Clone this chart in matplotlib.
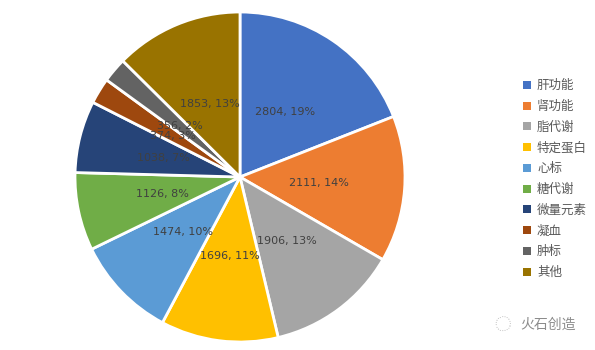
import matplotlib.pyplot as plt
from matplotlib.patches import Patch

plt.rcParams['font.family'] = ['Noto Sans CJK SC', 'DejaVu Sans']

# test categories, sample counts and their shown shares (%)
categories = ["肝功能", "肾功能", "脂代谢", "特定蛋白", "心标", "糖代谢", "微量元素", "凝血", "肿标", "其他"]
counts = [2804, 2111, 1906, 1696, 1474, 1126, 1038, 374, 356, 1853]
shares = [19, 14, 13, 11, 10, 8, 7, 3, 2, 13]
colors = ["#4472C4", "#ED7D31", "#A5A5A5", "#FFC000", "#5B9BD5",
          "#70AD47", "#264478", "#9E480E", "#636363", "#997300"]

labels = [f"{c}, {p}%" for c, p in zip(counts, shares)]

fig = plt.figure(figsize=(5.95, 3.5), dpi=100)
W, H = 595, 350
cx, cy, r = 240, 177, 165
ax = fig.add_axes([(cx - r) / W, (H - cy - r) / H, 2 * r / W, 2 * r / H])

wedges, texts = ax.pie(counts, colors=colors, startangle=90, counterclock=False,
                       labels=labels, labeldistance=0.48,
                       wedgeprops=dict(edgecolor="white", linewidth=2))
for t in texts:
    t.set_ha("center")
    t.set_va("center")
    t.set_fontsize(8)
    t.set_color("#404040")
    t.set_family("DejaVu Sans")
ax.set_xlim(-1, 1)
ax.set_ylim(-1, 1)
ax.set_aspect("equal")

handles = [Patch(facecolor=c, edgecolor="none") for c in colors]
fig.legend(handles, categories, loc="upper left", bbox_to_anchor=(512 / W, 1 - 68 / H),
           frameon=False, fontsize=9, handlelength=0.6, handleheight=0.6,
           handletextpad=0.5, labelspacing=0.62, labelcolor="#595959")

# watermark
fig.text(503 / W, 1 - 325 / H, "◌", fontsize=12, color="#C8C8C8", ha="center", va="center")
fig.text(520 / W, 1 - 325 / H, "火石创造", fontsize=10, color="#8C8C8C", ha="left", va="center")

fig.savefig("out.png", dpi=100, facecolor="white")
